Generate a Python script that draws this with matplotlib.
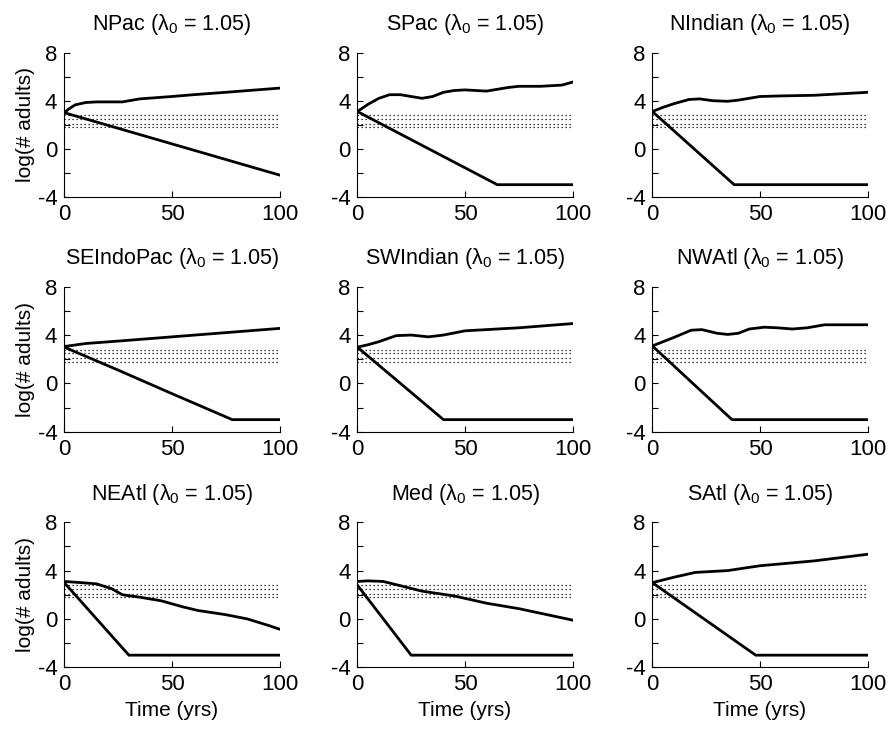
import matplotlib
matplotlib.use("Agg")
import matplotlib.pyplot as plt
import numpy as np

plt.rcParams['font.family'] = ['Liberation Sans', 'DejaVu Sans']
plt.rcParams['mathtext.fontset'] = 'custom'
plt.rcParams['mathtext.rm'] = 'Liberation Sans'
plt.rcParams['mathtext.it'] = 'Liberation Sans'
plt.rcParams['axes.unicode_minus'] = False

regions = ["NPac", "SPac", "NIndian", "SEIndoPac", "SWIndian", "NWAtl", "NEAtl", "Med", "SAtl"]
lambda0 = "1.05"

# threshold reference levels (dotted band)
thresholds = [2.77, 2.48, 2.08, 1.79]

# upper trajectories (x, y)
up_x = {
    "NPac": [0, 2, 5, 10, 15, 27, 35, 50, 60, 75, 100],
    "SPac": [0, 5, 10, 15, 20, 25, 30, 35, 40, 45, 50, 55, 60, 65, 70, 75, 85, 95, 100],
    "NIndian": [0, 5, 10, 17, 22, 28, 35, 40, 50, 60, 75, 90, 100],
    "SEIndoPac": [0, 10, 25, 50, 75, 100],
    "SWIndian": [0, 5, 10, 18, 25, 33, 40, 50, 60, 75, 100],
    "NWAtl": [0, 10, 18, 23, 30, 35, 40, 45, 52, 58, 65, 72, 80, 90, 100],
    "NEAtl": [0, 8, 15, 22, 27, 35, 45, 55, 62, 75, 85, 95, 100],
    "Med": [0, 5, 12, 20, 30, 45, 60, 75, 100],
    "SAtl": [0, 10, 20, 35, 50, 75, 100],
}
up_y = {
    "NPac": [3.0, 3.3, 3.65, 3.85, 3.9, 3.9, 4.15, 4.35, 4.5, 4.7, 5.05],
    "SPac": [3.1, 3.7, 4.2, 4.5, 4.5, 4.35, 4.2, 4.35, 4.7, 4.85, 4.9, 4.85, 4.8, 4.95, 5.1, 5.2, 5.2, 5.3, 5.55],
    "NIndian": [3.1, 3.45, 3.75, 4.1, 4.15, 4.0, 3.95, 4.05, 4.35, 4.4, 4.45, 4.6, 4.7],
    "SEIndoPac": [3.05, 3.3, 3.5, 3.85, 4.2, 4.55],
    "SWIndian": [3.0, 3.2, 3.45, 3.95, 4.0, 3.85, 4.0, 4.35, 4.45, 4.6, 4.95],
    "NWAtl": [3.1, 3.8, 4.4, 4.45, 4.15, 4.05, 4.15, 4.5, 4.65, 4.6, 4.5, 4.6, 4.85, 4.85, 4.85],
    "NEAtl": [3.1, 3.0, 2.9, 2.5, 2.0, 1.8, 1.5, 1.0, 0.7, 0.35, 0.0, -0.55, -0.85],
    "Med": [3.1, 3.15, 3.1, 2.75, 2.3, 1.9, 1.3, 0.85, -0.1],
    "SAtl": [3.0, 3.45, 3.85, 4.0, 4.4, 4.8, 5.35],
}
# lower trajectories (x, y)
low_x = {
    "NPac": [0, 100],
    "SPac": [0, 65, 100],
    "NIndian": [0, 38, 100],
    "SEIndoPac": [0, 25, 50, 78, 100],
    "SWIndian": [0, 40, 100],
    "NWAtl": [0, 37, 100],
    "NEAtl": [0, 30, 100],
    "Med": [0, 25, 100],
    "SAtl": [0, 48, 100],
}
low_y = {
    "NPac": [3.0, -2.2],
    "SPac": [3.1, -3.0, -3.0],
    "NIndian": [3.1, -3.0, -3.0],
    "SEIndoPac": [3.0, 1.1, -0.85, -3.0, -3.0],
    "SWIndian": [3.0, -3.0, -3.0],
    "NWAtl": [3.1, -3.0, -3.0],
    "NEAtl": [3.0, -3.0, -3.0],
    "Med": [2.8, -3.0, -3.0],
    "SAtl": [3.0, -3.0, -3.0],
}

fig = plt.figure(figsize=(8.88, 7.29), dpi=100)
col_x = [0.0724, 0.4024, 0.7346]
row_b = [0.7302, 0.4078, 0.0847]
w = 0.2425
hts = [0.1975, 0.1989, 0.1989]

for i, name in enumerate(regions):
    r, c = divmod(i, 3)
    ax = fig.add_axes([col_x[c], row_b[r], w, hts[r]])
    for t in thresholds:
        ax.plot([0, 100], [t, t], color='black', lw=0.9, linestyle=(0, (1, 2.2)))
    ax.plot(up_x[name], up_y[name], color='black', lw=2.0, solid_joinstyle='round')
    ax.plot(low_x[name], low_y[name], color='black', lw=2.0, solid_joinstyle='round')
    ax.set_xlim(0, 100)
    ax.set_ylim(-4, 8)
    ax.set_xticks([0, 50, 100])
    ax.set_yticks([-4, 0, 4, 8])
    ax.set_yticks([-2, 2, 6], minor=True)
    ax.tick_params(direction='in', length=4, width=0.8, labelsize=16)
    ax.tick_params(axis='x', pad=5)
    ax.tick_params(axis='y', pad=5)
    ax.tick_params(which='minor', direction='in', length=4, width=0.8)
    ax.spines['top'].set_visible(False)
    ax.spines['right'].set_visible(False)
    ax.set_title(name + r" ($\lambda_0$ = " + lambda0 + ")", fontsize=15.5, pad=16)
    if c == 0:
        ax.set_ylabel("log(# adults)", fontsize=15, labelpad=2)
    if r == 2:
        ax.set_xlabel("Time (yrs)", fontsize=15, labelpad=4)

fig.savefig("out.png", dpi=100)
